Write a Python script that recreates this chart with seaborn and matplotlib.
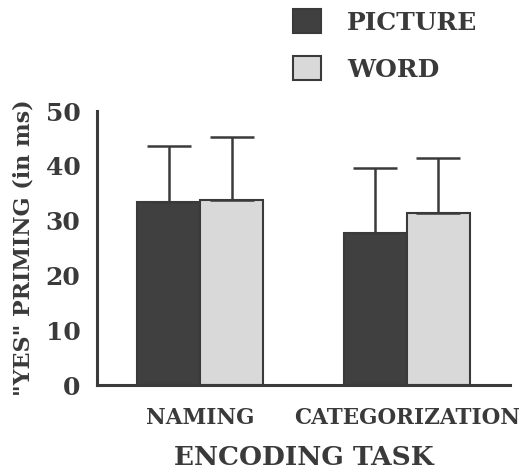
import pandas as pd
import matplotlib.pyplot as plt
import seaborn as sns
from matplotlib.patches import Patch

tasks = ['NAMING', 'CATEGORIZATION']
formats = ['PICTURE', 'WORD']
picture_mean = [33.4, 27.7]
word_mean = [33.8, 31.4]
picture_err = [10.2, 11.9]
word_err = [11.5, 10.0]

df = pd.DataFrame({
    'task': tasks * 2,
    'format': ['PICTURE'] * 2 + ['WORD'] * 2,
    'priming': picture_mean + word_mean,
    'err': picture_err + word_err,
})

sns.set_style('white')
plt.rcParams['font.family'] = ['DejaVu Serif']
plt.rcParams['font.weight'] = 'bold'
ink = '#3a3a3a'
colors = {'PICTURE': '#404040', 'WORD': '#d9d9d9'}

fig = plt.figure(figsize=(5.19, 4.69), dpi=100)
ax = fig.add_axes([0.187, 0.179, 0.796, 0.584])

sns.barplot(data=df, x='task', y='priming', hue='format', order=tasks,
            hue_order=formats, palette=colors, width=0.61, errorbar=None,
            edgecolor=ink, linewidth=1.5, legend=False, ax=ax)

# upward-only error bars from the drawn bars
for bar, (_, row) in zip(ax.patches, df.iterrows()):
    xc = bar.get_x() + bar.get_width() / 2
    ax.errorbar(xc, bar.get_height(), yerr=[[0], [row.err]], fmt='none',
                ecolor=ink, elinewidth=1.8, capsize=16, capthick=1.8)

ax.set_xlim(-0.5, 1.5)
ax.set_ylim(0, 50)
ax.set_yticks([0, 10, 20, 30, 40, 50])
ax.set_xticks([-0.5, 0.5, 1.5], minor=True)
ax.tick_params(axis='x', which='major', length=0, pad=16, labelsize=15.5,
               colors=ink)
ax.tick_params(axis='x', which='minor', length=4.5, width=2, color=ink,
               direction='out')
ax.tick_params(axis='y', length=7, width=2, color=ink, labelsize=18,
               labelcolor=ink, direction='out', pad=5)
for lab in ax.get_xticklabels() + ax.get_yticklabels():
    lab.set_fontweight('bold')

sns.despine(ax=ax)
for s in ['left', 'bottom']:
    ax.spines[s].set_linewidth(2.2)
    ax.spines[s].set_color(ink)

ax.set_xlabel('ENCODING TASK', fontsize=19, fontweight='bold', color=ink,
              labelpad=11)
ax.set_ylabel('"YES" PRIMING (in ms)', fontsize=16, fontweight='bold',
              color=ink, labelpad=8)

handles = [Patch(facecolor=colors[f], edgecolor=ink, linewidth=1.5)
           for f in formats]
fig.legend(handles, formats, loc='upper left', bbox_to_anchor=(0.565, 0.98),
           frameon=False, borderaxespad=0, borderpad=0,
           handlelength=1.1, handleheight=1.1,
           handletextpad=1.05, labelspacing=0.85,
           prop={'size': 18, 'weight': 'bold'}, labelcolor=ink)

fig.savefig('out.png', dpi=100)
